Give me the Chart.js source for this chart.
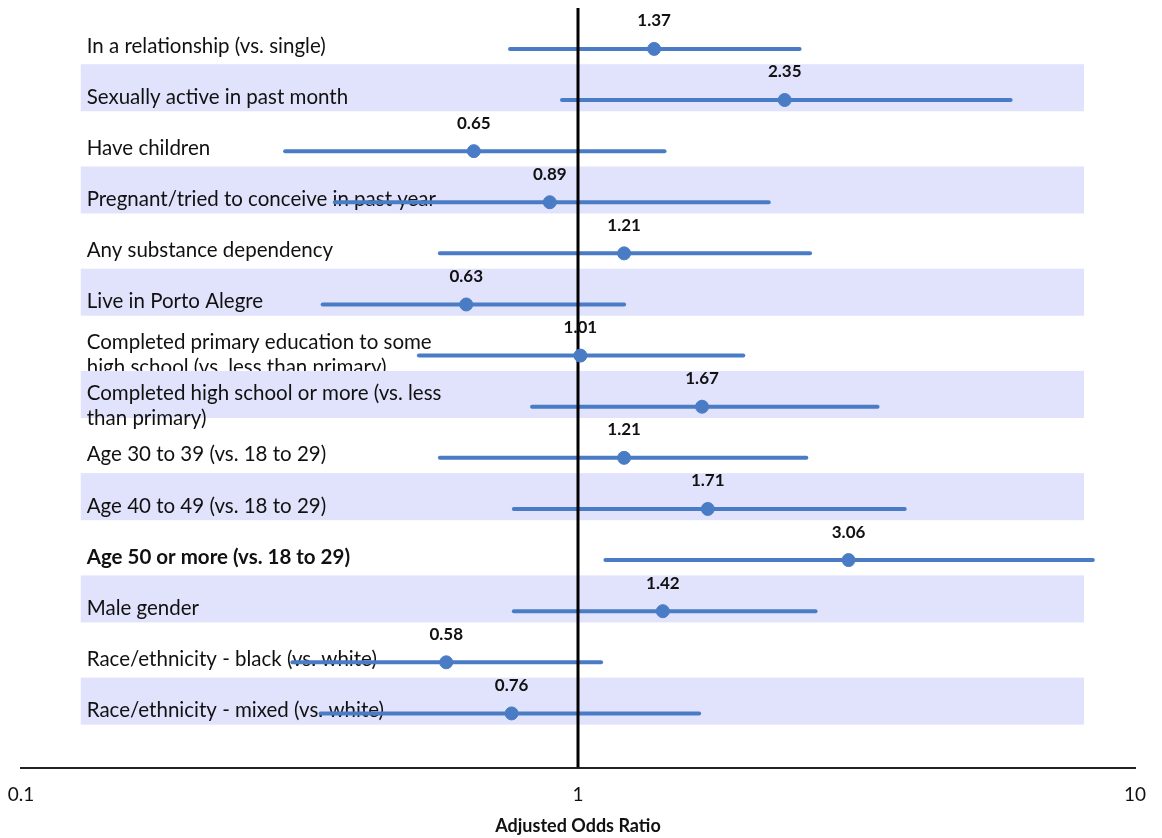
<!DOCTYPE html>
<html>
<head>
<meta charset="utf-8">
<script src="https://cdn.jsdelivr.net/npm/chart.js@4"></script>
<style>
  body { margin: 0; background: #fff; }
  #wrap { width: 1162px; height: 838px; }
</style>
</head>
<body>
<div id="wrap"><canvas id="forest" width="1162" height="838"></canvas></div>
<script>
// Data
const labels = [
    'In a relationship (vs. single)',
    'Sexually active in past month',
    'Have children',
    'Pregnant/tried to conceive in past year',
    'Any substance dependency',
    'Live in Porto Alegre',
    'Completed primary education to some\nhigh school (vs. less than primary)',
    'Completed high school or more (vs. less\nthan primary)',
    'Age 30 to 39 (vs. 18 to 29)',
    'Age 40 to 49 (vs. 18 to 29)',
    'Age 50 or more (vs. 18 to 29)',
    'Male gender',
    'Race/ethnicity - black (vs. white)',
    'Race/ethnicity - mixed (vs. white)'
];
const oddsRatios = [1.37, 2.35, 0.65, 0.89, 1.21, 0.63, 1.01, 1.67, 1.21, 1.71, 3.06, 1.42, 0.58, 0.76];
const ciLower = [0.755, 0.936, 0.298, 0.366, 0.565, 0.348, 0.518, 0.827, 0.565, 0.767, 1.12, 0.767, 0.307, 0.345];
const ciUpper = [2.50, 5.98, 1.43, 2.20, 2.61, 1.21, 1.98, 3.45, 2.57, 3.86, 8.40, 2.67, 1.10, 1.65];
const boldRows = [10];
const xTicks = [0.1, 1, 10];

const BLUE = '#4a7cc6';
const FONT = 'Lato, "Open Sans", sans-serif';
const Y_MIN = -0.8, Y_MAX = 14.06;

// one dataset per CI line
const ciSets = labels.map((l, i) => ({
    type: 'line',
    data: [{ x: ciLower[i], y: i }, { x: ciUpper[i], y: i }],
    borderColor: BLUE,
    borderWidth: 4,
    borderCapStyle: 'round',
    pointRadius: 0,
    order: 5
}));

// shaded bands + row labels behind the marks, value labels on top
const rowsPlugin = {
    id: 'rows',
    beforeDatasetsDraw(chart) {
        const { ctx, scales: { x, y } } = chart;
        const left = x.getPixelForValue(0.128);
        const right = x.getPixelForValue(8.1);
        ctx.save();
        labels.forEach((label, i) => {
            if (i % 2 === 1) {
                const top = y.getPixelForValue(i - 0.7);
                const bot = y.getPixelForValue(i + 0.22);
                ctx.fillStyle = '#e1e2fb';
                ctx.fillRect(left, top, right - left, bot - top);
            }
            const lines = label.split('\n');
            const cy = y.getPixelForValue(i) - (lines.length > 1 ? 1 : 3);
            ctx.fillStyle = '#111';
            ctx.font = (boldRows.includes(i) ? 'bold ' : '') + '20.5px ' + FONT;
            ctx.textAlign = 'left';
            ctx.textBaseline = 'middle';
            lines.forEach((t, k) => {
                ctx.fillText(t, left + 6, cy + (k - (lines.length - 1) / 2) * 25);
            });
        });
        ctx.restore();
    },
    afterDatasetsDraw(chart) {
        const { ctx } = chart;
        const meta = chart.getDatasetMeta(chart.data.datasets.length - 1);
        ctx.save();
        ctx.fillStyle = '#111';
        ctx.font = 'bold 17px ' + FONT;
        ctx.textAlign = 'center';
        ctx.textBaseline = 'middle';
        meta.data.forEach((pt, i) => {
            ctx.fillText(oddsRatios[i].toFixed(2), pt.x, pt.y - 28);
        });
        ctx.restore();
    }
};

new Chart(document.getElementById('forest').getContext('2d'), {
    type: 'scatter',
    data: {
        datasets: [
            ...ciSets,
            {
                type: 'line',
                data: [{ x: 1, y: Y_MIN }, { x: 1, y: Y_MAX }],
                borderColor: '#000',
                borderWidth: 3,
                pointRadius: 0,
                order: 4
            },
            {
                type: 'scatter',
                data: oddsRatios.map((v, i) => ({ x: v, y: i })),
                backgroundColor: BLUE,
                borderColor: BLUE,
                pointRadius: 6.5,
                order: 1
            }
        ]
    },
    options: {
        responsive: false,
        animation: false,
        devicePixelRatio: 1,
        layout: { padding: { top: 8, left: 21, right: 27, bottom: 1 } },
        plugins: {
            legend: { display: false },
            tooltip: { enabled: false }
        },
        scales: {
            x: {
                type: 'logarithmic',
                min: 0.1,
                max: 10,
                afterBuildTicks: (axis) => { axis.ticks = xTicks.map(v => ({ value: v })); },
                afterFit: (axis) => { axis.paddingLeft = 0; axis.paddingRight = 0; },
                ticks: {
                    color: '#111',
                    font: { family: FONT, size: 19 },
                    padding: 16,
                    maxRotation: 0,
                    callback: (v) => String(v)
                },
                grid: { display: false, drawTicks: false },
                border: { color: '#222', width: 2 },
                title: {
                    display: true,
                    text: 'Adjusted Odds Ratio',
                    color: '#111',
                    font: { family: FONT, size: 18, weight: 'bold' },
                    padding: { top: -7, bottom: 0 }
                }
            },
            y: {
                type: 'linear',
                display: false,
                reverse: true,
                min: Y_MIN,
                max: Y_MAX
            }
        }
    },
    plugins: [rowsPlugin]
});
</script>
</body>
</html>
